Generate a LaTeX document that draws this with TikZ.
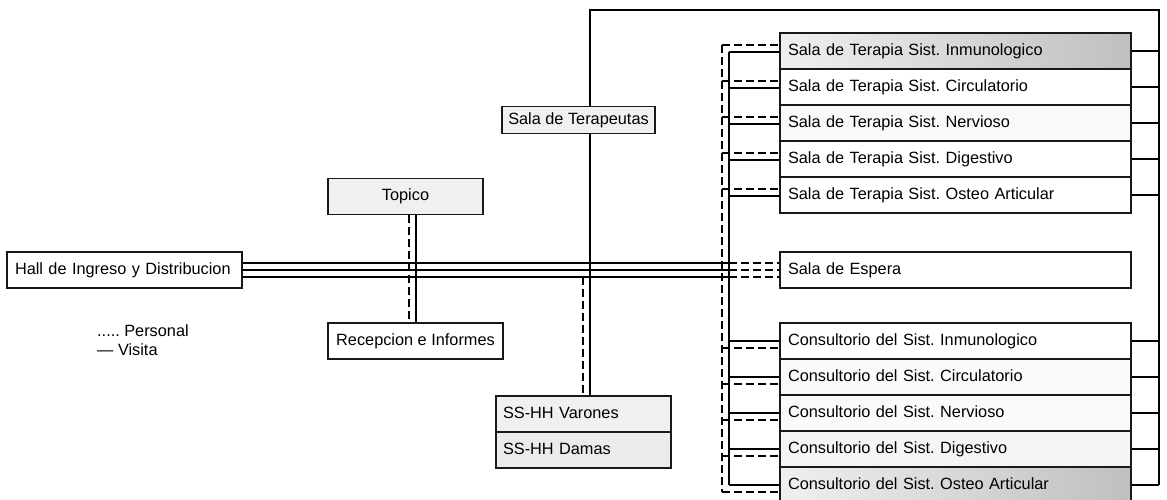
\documentclass[tikz,border=0pt]{standalone}
\usepackage{fontspec}
\setmainfont{Liberation Sans}
\frenchspacing
\begin{document}
\begin{tikzpicture}[x=1pt,y=-1pt,
  box/.style={draw=black!90, line width=1.4pt, inner ysep=0pt,
    font=\fontsize{16.3}{18}\selectfont, text height=11.8pt, text depth=3.5pt},
  lbox/.style={box, inner xsep=8pt, text width=#1, align=left, minimum height=36pt},
  cbox/.style={box, inner xsep=2pt, minimum width=#1, minimum height=36pt},
  speck/.style={fill=gray!12},
  dark/.style={left color=gray!12, right color=gray!50},
  visita/.style={line width=1.3pt, black},
  personal/.style={line width=1.3pt, black, dash pattern=on 8pt off 4pt},
  legend/.style={anchor=west, inner sep=0pt, font=\fontsize{16.3}{18}\selectfont}]
\useasboundingbox (0,0) rectangle (1167,500);
\fill[white] (0,0) rectangle (1167,500);

% main rooms
\node[lbox=219pt] (hall) at (124.5,270) {Hall de Ingreso y Distribucion};
\node[cbox=155pt, speck] (topico) at (405.5,196.5) {Topico};
\node[cbox=175pt] (recepcion) at (415.5,341) {Recepcion e Informes};
\node[cbox=153pt, speck, minimum height=27pt] (terapeutas) at (578.5,120) {Sala de Terapeutas};
\node[box, inner xsep=7pt, text width=161pt, align=left, minimum height=36pt, speck] (varones) at (583.5,414) {SS-HH Varones};
\node[box, inner xsep=7pt, text width=161pt, align=left, minimum height=36pt, fill=gray!16] (damas) at (583.5,450) {SS-HH Damas};

% therapy rooms
\node[lbox=335pt, dark] (ti1) at (955.5,51) {Sala de Terapia Sist. Inmunologico};
\node[lbox=335pt] (ti2) at (955.5,87) {Sala de Terapia Sist. Circulatorio};
\node[lbox=335pt, fill=gray!5] (ti3) at (955.5,123) {Sala de Terapia Sist. Nervioso};
\node[lbox=335pt] (ti4) at (955.5,159) {Sala de Terapia Sist. Digestivo};
\node[lbox=335pt] (ti5) at (955.5,195) {Sala de Terapia Sist. Osteo Articular};

\node[lbox=335pt] (espera) at (955.5,270) {Sala de Espera};

% consulting rooms
\node[lbox=335pt] (co1) at (955.5,341) {Consultorio del Sist. Inmunologico};
\node[lbox=335pt, fill=gray!4] (co2) at (955.5,377) {Consultorio del Sist. Circulatorio};
\node[lbox=335pt, fill=gray!4] (co3) at (955.5,413) {Consultorio del Sist. Nervioso};
\node[lbox=335pt, fill=gray!8] (co4) at (955.5,449) {Consultorio del Sist. Digestivo};
\node[lbox=335pt, dark] (co5) at (955.5,485) {Consultorio del Sist. Osteo Articular};

% legend
\node[legend] (legP) at (97,331) {..... Personal};
\node[legend] (legV) at (97,350) {— Visita};

% bus positions
\coordinate (busP) at (722,0);
\coordinate (busV) at (729,0);
\coordinate (busR) at (1159,0);
\coordinate (topY) at (0,10);
\coordinate (xTopP) at (409,0);
\coordinate (xTopV) at (416,0);
\coordinate (xTerP) at (583,0);
\coordinate (xTerV) at (590,0);

% main corridor
\foreach \s in {7pt,0pt,-7pt}
  \draw[visita] ([yshift=\s]hall.east) -- ([yshift=\s]hall.east -| busV);
\foreach \s in {7pt,0pt,-7pt}
  \draw[personal] ([yshift=\s]espera.west -| busV) -- ([yshift=\s]espera.west);

% Topico - Recepcion
\draw[personal] (topico.south -| xTopP) -- (recepcion.north -| xTopP);
\draw[visita] (topico.south -| xTopV) -- (recepcion.north -| xTopV);

% therapists' route
\draw[visita] (terapeutas.north -| xTerV) |- (topY -| busR) -- (co5.east -| busR);
\draw[visita] (terapeutas.south -| xTerV) -- (varones.north -| xTerV);
\draw[personal] ([yshift=-7pt]hall.east -| xTerP) -- (varones.north -| xTerP);

% right-hand branches
\foreach \n in {ti1,ti2,ti3,ti4,ti5,co1,co2,co3,co4,co5}
  \draw[visita] (\n.east) -- (\n.east -| busR);

% left-hand buses
\draw[personal] ([yshift=6pt]ti1.west -| busP) -- ([yshift=-7pt]co5.west -| busP);
\draw[visita] ([yshift=-1pt]ti1.west -| busV) -- (co5.west -| busV);
\foreach \n in {ti1,ti2,ti3,ti4,ti5}{
  \draw[personal] ([yshift=6pt]\n.west -| busP) -- ([yshift=6pt]\n.west);
  \draw[visita] ([yshift=-1pt]\n.west -| busV) -- ([yshift=-1pt]\n.west);
}
\foreach \n in {co1,co2,co3,co4,co5}{
  \draw[visita] (\n.west -| busV) -- (\n.west);
  \draw[personal] ([yshift=-7pt]\n.west -| busP) -- ([yshift=-7pt]\n.west);
}
\end{tikzpicture}
\end{document}
